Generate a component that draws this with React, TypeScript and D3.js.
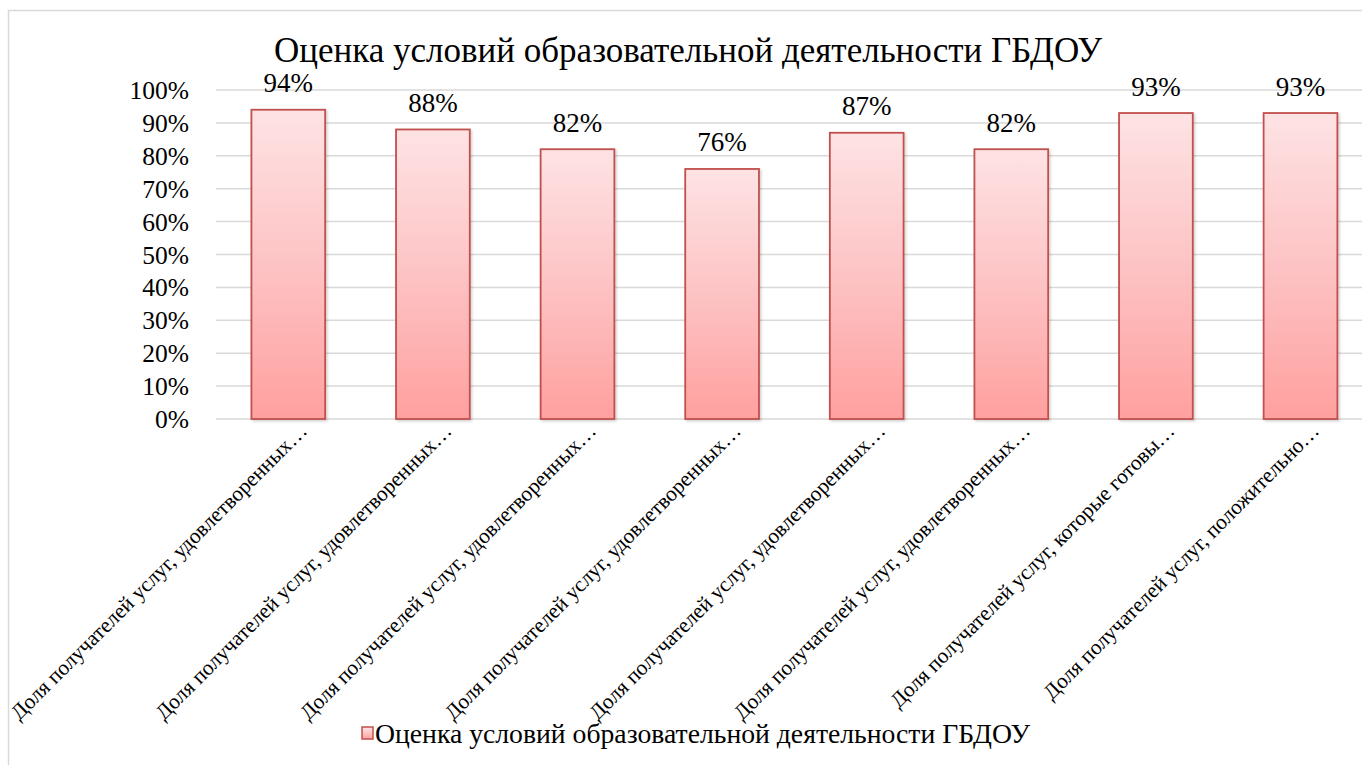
import React from "react";
import * as d3 from "d3";

const title = "Оценка условий образовательной деятельности ГБДОУ";
const seriesName = "Оценка условий образовательной деятельности ГБДОУ";
const categories = [
  "Доля получателей услуг, удовлетворенных…",
  "Доля получателей услуг, удовлетворенных… ",
  "Доля получателей услуг, удовлетворенных…  ",
  "Доля получателей услуг, удовлетворенных…   ",
  "Доля получателей услуг, удовлетворенных…    ",
  "Доля получателей услуг, удовлетворенных…     ",
  "Доля получателей услуг, которые готовы…",
  "Доля получателей услуг, положительно…",
];
const values = [0.94, 0.88, 0.82, 0.76, 0.87, 0.82, 0.93, 0.93];
const ticks = [0, 0.1, 0.2, 0.3, 0.4, 0.5, 0.6, 0.7, 0.8, 0.9, 1.0];

const W = 1362;
const H = 765;
const FONT = "'Times New Roman', 'Liberation Serif', serif";
const ts = { fontFamily: FONT };

export default function App() {
  const left = 216;
  const bandW = 144.6;
  const right = left + bandW * categories.length;
  const top = 90;
  const bottom = 419;

  const x = d3.scaleBand<string>().domain(categories).range([left, right]).paddingInner(0.49).paddingOuter(0.245);
  const y = d3.scaleLinear().domain([0, 1]).range([bottom, top]);
  const fmt = d3.format(".0%");

  return (
    <>
      <style>{`body{margin:0;overflow:hidden}`}</style>
      <svg width={W} height={H} style={{ display: "block" }}>
        <defs>
          <linearGradient id="barGrad" x1="0" y1="0" x2="0" y2="1">
            <stop offset="0" stopColor="#fee3e4" />
            <stop offset="0.5" stopColor="#fdc3c4" />
            <stop offset="1" stopColor="#ffa09f" />
          </linearGradient>
          <filter id="sh" x="-10%" y="-10%" width="130%" height="130%">
            <feDropShadow dx="1.5" dy="1.5" stdDeviation="1" floodColor="#000" floodOpacity="0.18" />
          </filter>
        </defs>
        <rect x={0} y={0} width={W} height={H} fill="#fff" />
        <rect x={8.5} y={10.5} width={W + 50} height={H + 50} fill="#fff" stroke="#d9d9d9" strokeWidth={1.5} />
        <text x={688} y={62} textAnchor="middle" fontSize={35} fill="#000" style={ts}>
          {title}
        </text>
        {ticks.map((t) => (
          <g key={t}>
            <line x1={left} x2={W} y1={y(t)} y2={y(t)} stroke="#d9d9d9" strokeWidth={1.5} />
            <text x={189} y={y(t) + 9} textAnchor="end" fontSize={25.5} fill="#000" style={ts}>
              {fmt(t)}
            </text>
          </g>
        ))}
        {categories.map((c, i) => {
          const bx = x(c)!;
          const bw = x.bandwidth();
          const by = y(values[i]);
          const cx = bx + bw / 2;
          return (
            <g key={c}>
              <rect
                x={bx}
                y={by}
                width={bw}
                height={bottom - by}
                fill="url(#barGrad)"
                stroke="#c0504d"
                strokeWidth={1.8}
                filter="url(#sh)"
              />
              <text x={cx} y={by - 17.5} textAnchor="middle" fontSize={27} fill="#000" style={ts}>
                {fmt(values[i])}
              </text>
              <text
                transform={`translate(${cx + 20},${432}) rotate(-45)`}
                textAnchor="end"
                fontSize={21.4}
                fill="#000"
                style={ts}
              >
                {c.trim()}
              </text>
            </g>
          );
        })}
        <g>
          <rect x={362} y={727} width={11} height={12} fill="url(#barGrad)" stroke="#c0504d" strokeWidth={1.5} />
          <text x={375} y={743} fontSize={27.7} fill="#000" style={ts}>
            {seriesName}
          </text>
        </g>
      </svg>
    </>
  );
}
